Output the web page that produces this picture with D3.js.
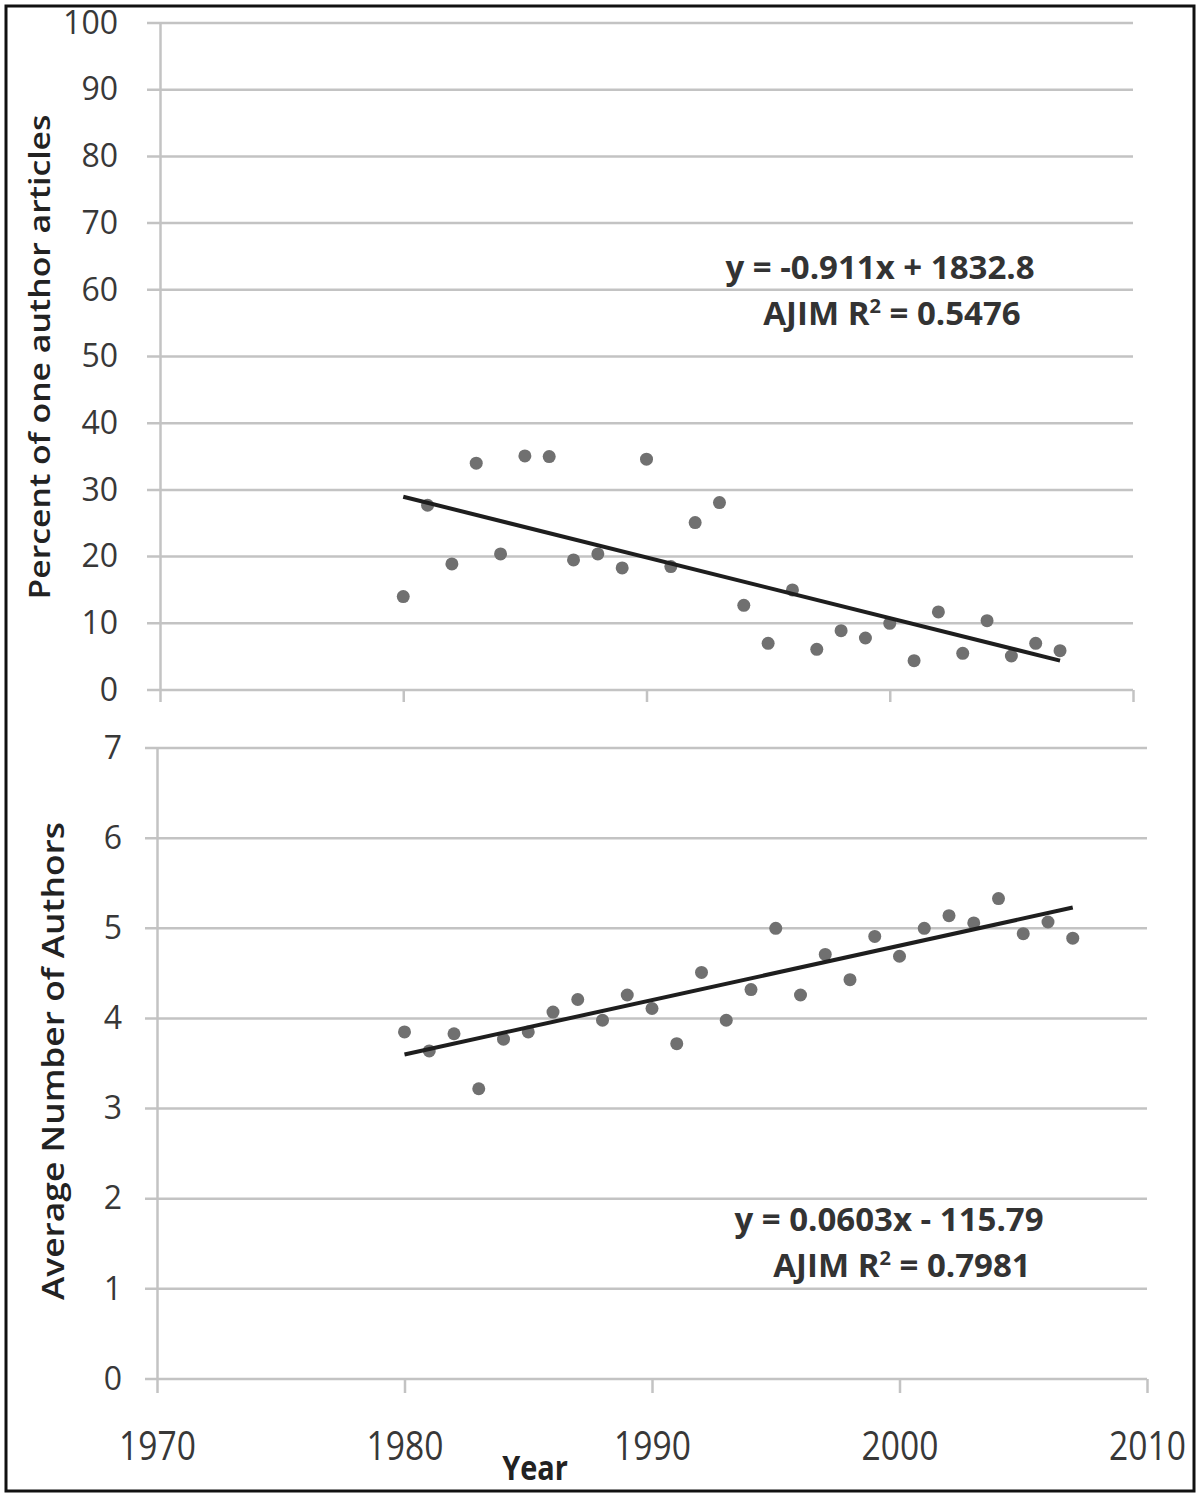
<!DOCTYPE html>
<html>
<head>
<meta charset="utf-8">
<script src="https://cdn.jsdelivr.net/npm/d3@7"></script>
<style>
  body { margin: 0; background: #fff; }
  svg { display: block; font-family: "Open Sans", sans-serif; }
</style>
</head>
<body>
<svg id="chart" width="1200" height="1497"></svg>
<script>
// data
const years = [1980, 1981, 1982, 1983, 1984, 1985, 1986, 1987, 1988, 1989,
  1990, 1991, 1992, 1993, 1994, 1995, 1996, 1997, 1998, 1999,
  2000, 2001, 2002, 2003, 2004, 2005, 2006, 2007];
const pctOneAuthor = [14.0, 27.7, 18.9, 34.0, 20.4, 35.1, 35.0, 19.5, 20.4, 18.3,
  34.6, 18.5, 25.1, 28.1, 12.7, 7.0, 15.0, 6.1, 8.9, 7.8,
  10.0, 4.4, 11.7, 5.5, 10.4, 5.1, 7.0, 5.9];
const avgAuthors = [3.85, 3.64, 3.83, 3.22, 3.77, 3.85, 4.07, 4.21, 3.98, 4.26,
  4.11, 3.72, 4.51, 3.98, 4.32, 5.00, 4.26, 4.71, 4.43, 4.91,
  4.69, 5.00, 5.14, 5.06, 5.33, 4.94, 5.07, 4.89];
const trendTop = [[1980, 28.98], [2007, 4.40]];
const trendBottom = [[1980, 3.60], [2007, 5.23]];
const xTicks = [1970, 1980, 1990, 2000, 2010];
const yTicksTop = [0, 10, 20, 30, 40, 50, 60, 70, 80, 90, 100];
const yTicksBottom = [0, 1, 2, 3, 4, 5, 6, 7];

const svg = d3.select("#chart");
const gridColor = "#c3c3c3";
const dotColor = "#707070";
const textColor = "#383838";

// outer frame
svg.append("rect")
  .attr("x", 6).attr("y", 6)
  .attr("width", 1188).attr("height", 1485)
  .attr("fill", "none").attr("stroke", "#111").attr("stroke-width", 3);

function panel(cfg) {
  const x = d3.scaleLinear().domain([1970, 2010]).range(cfg.xRange);
  const y = d3.scaleLinear().domain(cfg.yDomain).range(cfg.yRange);
  const g = svg.append("g");

  // horizontal gridlines
  g.append("g").selectAll("line")
    .data(cfg.yTicks)
    .join("line")
    .attr("x1", cfg.xRange[0] - cfg.tickLen).attr("x2", cfg.xRange[1])
    .attr("y1", d => y(d)).attr("y2", d => y(d))
    .attr("stroke", gridColor).attr("stroke-width", 2.5);

  // y axis
  const yAxis = g.append("g")
    .attr("transform", `translate(${cfg.xRange[0]},0)`)
    .call(d3.axisLeft(y).tickValues(cfg.yTicks).tickSize(0).tickPadding(cfg.yPad)
      .tickFormat(d3.format("d")));
  yAxis.select(".domain").attr("stroke", gridColor).attr("stroke-width", 2.5);
  yAxis.selectAll("text")
    .attr("fill", textColor).style("font-size", "32px").attr("font-family", "Open Sans");

  // x axis ticks
  const xAxis = g.append("g")
    .attr("transform", `translate(0,${cfg.yRange[0]})`)
    .call(d3.axisBottom(x).tickValues(xTicks).tickSizeInner(cfg.xTickLen).tickSizeOuter(0)
      .tickPadding(cfg.xPad).tickFormat(cfg.showX ? d3.format("d") : ""));
  xAxis.select(".domain").remove();
  xAxis.selectAll("line").attr("stroke", gridColor).attr("stroke-width", 2.5);
  xAxis.selectAll("text")
    .attr("fill", textColor).style("font-size", "40px").attr("font-family", "Open Sans")
    .attr("transform", "scale(0.84,1)");

  // points
  g.append("g").selectAll("circle")
    .data(years.map((yr, i) => [yr, cfg.values[i]]))
    .join("circle")
    .attr("cx", d => x(d[0])).attr("cy", d => y(d[1]))
    .attr("r", 6.5).attr("fill", dotColor);

  // trend line
  g.append("path")
    .datum(cfg.trend)
    .attr("d", d3.line().x(d => x(d[0])).y(d => y(d[1])))
    .attr("fill", "none").attr("stroke", "#1e1e1e").attr("stroke-width", 4);

  // y title
  g.append("text")
    .attr("transform", `translate(${cfg.titleX},${cfg.titleY}) rotate(-90)`)
    .attr("text-anchor", "middle").attr("dominant-baseline", "central")
    .attr("font-weight", 600).style("font-size", cfg.titleSize + "px")
    .attr("textLength", cfg.titleLen).attr("lengthAdjust", "spacingAndGlyphs")
    .attr("fill", "#222")
    .text(cfg.title);

  // equation
  g.append("text")
    .attr("x", cfg.eqX).attr("y", cfg.eqY)
    .attr("text-anchor", "middle")
    .attr("font-weight", 700).style("font-size", "33px").attr("fill", "#333")
    .text(cfg.eq);
  const r = g.append("text")
    .attr("x", cfg.rX).attr("y", cfg.eqY + 46)
    .attr("text-anchor", "middle")
    .attr("font-weight", 700).style("font-size", "33px").attr("fill", "#333");
  r.append("tspan").text("AJIM R");
  r.append("tspan").attr("dy", -12).style("font-size", "20px").text("2");
  r.append("tspan").attr("dy", 12).text(" = " + cfg.r2);
}

panel({
  xRange: [160, 1133], yRange: [690, 23], yDomain: [0, 100],
  yTicks: yTicksTop, tickLen: 13, yPad: 42, xTickLen: 12, xPad: 0, showX: false,
  values: pctOneAuthor, trend: trendTop,
  title: "Percent of one author articles", titleX: 38, titleY: 357, titleSize: 29, titleLen: 485,
  eq: "y = -0.911x + 1832.8", eqX: 880, rX: 892, eqY: 279, r2: "0.5476"
});

panel({
  xRange: [157, 1147], yRange: [1379, 748], yDomain: [0, 7],
  yTicks: yTicksBottom, tickLen: 12, yPad: 35, xTickLen: 14, xPad: 39, showX: true,
  values: avgAuthors, trend: trendBottom,
  title: "Average Number of Authors", titleX: 52, titleY: 1061, titleSize: 31, titleLen: 478,
  eq: "y = 0.0603x - 115.79", eqX: 889, rX: 902, eqY: 1231, r2: "0.7981"
});

// x title
svg.append("text")
  .attr("x", 535).attr("y", 1480)
  .attr("text-anchor", "middle")
  .attr("font-weight", 700).style("font-size", "34px").attr("fill", "#222")
  .attr("transform", "translate(535,0) scale(0.85,1) translate(-535,0)")
  .text("Year");
</script>
</body>
</html>
